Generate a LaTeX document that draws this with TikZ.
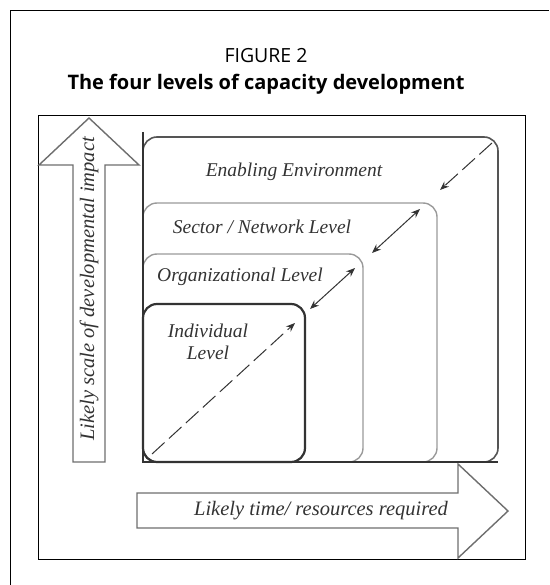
\documentclass[tikz,border=0pt]{standalone}
\usepackage{fontspec}
\setmainfont{Liberation Serif}
\newfontfamily\titlefont{Open Sans}
\usetikzlibrary{arrows.meta}
\definecolor{inkdark}{HTML}{333333}
\definecolor{inkmid}{HTML}{555555}
\definecolor{inklight}{HTML}{9A9A9A}
\definecolor{arrowgray}{HTML}{6E6E6E}
\tikzset{
  frameline/.style={draw=black, line width=0.8pt},
  levelbox/.style={rounded corners=14pt, anchor=south west, inner sep=0pt, outer sep=0pt},
  leveltext/.style={font=\fontsize{19.5}{22}\selectfont\itshape, text=inkdark, inner sep=0pt},
  arrowtext/.style={font=\fontsize{20.5}{23}\selectfont\itshape, text=inkdark, inner sep=0pt},
  bigarrow/.style={draw=arrowgray, line width=1.4pt, fill=white},
  axisline/.style={draw=inkdark, line width=2.5pt},
  diagtip/.style={-{Stealth[length=9pt,width=7pt]}},
  diagboth/.style={{Stealth[length=9pt,width=7pt]}-{Stealth[length=9pt,width=7pt]}},
  diagline/.style={draw=inkdark, line width=1pt},
  dashlong/.style={dash pattern=on 17pt off 6pt}
}
\begin{document}
\begin{tikzpicture}[x=1pt,y=-1pt]
\useasboundingbox (0,0) rectangle (549,585);
% outer frame (cropped on right and bottom)
\draw[frameline] (10.5,585) -- (10.5,10.5) -- (549,10.5);
% titles
\node[font=\titlefont\fontsize{19.5}{22}\selectfont] (fig) at (266,56) {FIGURE 2};
\node[font=\titlefont\bfseries\fontsize{20}{23}\selectfont] (title) at (266,84) {The four levels of capacity development};
% inner frame
\draw[frameline] (38,115) rectangle (525,559);
% vertical arrow
\draw[bigarrow] (73,462) -- (73,165) -- (39,165) -- (89,118) -- (139,165) -- (105,165) -- (105,462) -- cycle;
\node[arrowtext, rotate=90] (vtext) at (89,289) {Likely scale of developmental impact};
% horizontal arrow
\draw[bigarrow] (137,493) -- (458,493) -- (458,464) -- (508,511) -- (458,558) -- (458,528) -- (137,528) -- cycle;
\node[arrowtext] (htext) at (321,511) {Likely time/ resources required};
% level boxes
\node[levelbox, draw=inkmid, line width=1.6pt, minimum width=355pt, minimum height=325pt] (env) at (143,462) {};
\node[levelbox, draw=inklight, line width=1.4pt, minimum width=294pt, minimum height=259pt] (sec) at (143,462) {};
\node[levelbox, draw=inklight, line width=1.4pt, minimum width=220pt, minimum height=208pt] (org) at (143,462) {};
\node[levelbox, draw=inkdark, line width=2.2pt, minimum width=162pt, minimum height=158pt] (ind) at (143,462) {};
% axes
\draw[axisline] (143,132) -- (143,462) -- (498,462);
% labels
\node[leveltext] (tenv) at (294,172) {Enabling Environment};
\node[leveltext] (tsec) at (262,227) {Sector / Network Level};
\node[leveltext] (torg) at (240,277) {Organizational Level};
\node[leveltext, align=center] (tind) at (208,342) {Individual\\Level};
% diagonal coordinates
\coordinate (d0) at (152,454);
\coordinate (d1) at (295,323);
\coordinate (d2) at (310,309);
\coordinate (d3) at (355,268);
\coordinate (d4) at (372,253);
\coordinate (d5) at (420,209);
\coordinate (d6) at (440,190);
\coordinate (d7) at (492,143);
\draw[diagline, dashlong, diagtip] (d0) -- (d1);
\draw[diagline, diagboth] (d2) -- (d3);
\draw[diagline, diagboth] (d4) -- (d5);
\draw[diagline, dashlong, diagtip] (d7) -- (d6);
\end{tikzpicture}
\end{document}
